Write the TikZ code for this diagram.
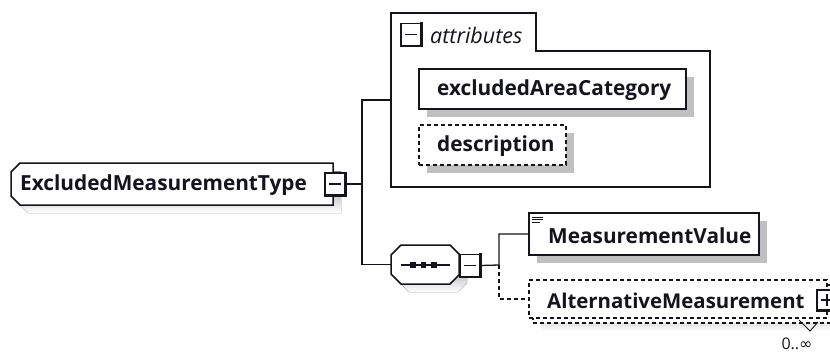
\documentclass[tikz,border=0pt]{standalone}
\usepackage{fontspec}
\setmainfont{Open Sans}
\newfontfamily\symfont{DejaVu Sans}
\usetikzlibrary{shadows,calc}

\definecolor{shade}{RGB}{192,192,192}
\definecolor{ink}{RGB}{20,20,30}

\tikzset{
  elemtext/.style={anchor=west, inner sep=0pt, text=ink,
    font=\bfseries\fontsize{20.8}{24}\selectfont},
  boxline/.style={draw=ink, line width=1.5pt, fill=white},
  optline/.style={dash pattern=on 4pt off 3pt},
  conn/.style={draw=ink, line width=1.3pt},
  shadowed/.style={drop shadow={shadow xshift=8pt, shadow yshift=-8pt,
    fill=shade, opacity=1}},
  elembox/.style={boxline, shadowed, rectangle, inner sep=0pt},
  frame/.style={rectangle, inner sep=0pt},
  pmbox/.style={draw=ink, fill=white, line width=1.2pt, rectangle,
    inner sep=0pt, minimum width=20pt, minimum height=22pt},
  pmedge/.style={draw=ink, line width=2.4pt},
  pmsign/.style={draw=ink, line width=1.3pt},
}

\begin{document}
\begin{tikzpicture}[x=1pt,y=-1pt]
\useasboundingbox (0,0) rectangle (830,353);

% ---- root element: ExcludedMeasurementType ----
\fill[shade] (28,171) -- (341,171) -- (341,213) -- (28,213) -- (19,204) -- (19,180) -- cycle;
\node[frame, minimum width=322pt, minimum height=42pt] (root) at (172,184) {};
\draw[boxline] (20,163) -- (333,163) -- (333,205) -- (20,205) -- (11,196) -- (11,172) -- cycle;
\node[elemtext] (roottext) at (20,185) {ExcludedMeasurementType};
\node[pmbox] (rootpm) at (335,184) {};
\draw[pmedge] ([yshift=0.6pt]rootpm.north east) -- (rootpm.south east) -- ([xshift=-0.6pt]rootpm.south west);
\draw[pmsign] ([xshift=-6pt]rootpm.center) -- ([xshift=6pt]rootpm.center);

% ---- attributes group ----
\coordinate (grpNW) at (391,13);
\draw[draw=ink, line width=1.4pt]
  (391,187) -- (grpNW) -- (536,13) -- (536,51) -- (710,51) -- (710,187) -- cycle;
\coordinate (grpW) at (391,100);
\node[pmbox] (attrpm) at (411,34.5) {};
\draw[pmedge] ([yshift=0.6pt]attrpm.north east) -- (attrpm.south east) -- ([xshift=-0.6pt]attrpm.south west);
\draw[pmsign] ([xshift=-6pt]attrpm.center) -- ([xshift=6pt]attrpm.center);
\node[anchor=west, inner sep=0pt, text=ink, font=\itshape\fontsize{21.5}{24}\selectfont]
  (attrlabel) at (430,35) {attributes};

\node[elembox, minimum width=267pt, minimum height=40pt] (area) at (552.5,89) {};
\node[elemtext] (areatext) at (437,90) {excludedAreaCategory};
\node[elembox, optline, minimum width=147pt, minimum height=40pt] (desc) at (492.5,145) {};
\node[elemtext] (desctext) at (437,146) {description};

% ---- sequence compositor ----
\fill[shade] (409,253) -- (458,253) -- (467,262) -- (467,283) -- (458,292) -- (409,292) -- (399,282) -- (399,263) -- cycle;
\node[frame, minimum width=68pt, minimum height=39pt] (seq) at (425,264.5) {};
\draw[boxline] (401,245) -- (450,245) -- (459,254) -- (459,275) -- (450,284) -- (401,284) -- (391,274) -- (391,255) -- cycle;
\draw[conn, line width=1.2pt] (401,265) -- (450,265);
\foreach \sx in {413,423.5,434}
  \fill[ink] (\sx-2.6,262.4) rectangle (\sx+2.6,267.6);
\node[pmbox] (seqpm) at (470,265.5) {};
\draw[pmedge] ([yshift=0.6pt]seqpm.north east) -- (seqpm.south east) -- ([xshift=-0.6pt]seqpm.south west);
\draw[pmsign] ([xshift=-6pt]seqpm.center) -- ([xshift=6pt]seqpm.center);

% ---- MeasurementValue ----
\node[elembox, minimum width=230pt, minimum height=42pt] (mval) at (644,234) {};
\node[elemtext] (mvaltext) at (548,236) {MeasurementValue};
\draw[draw=ink, line width=1pt]
  (532,217) -- (543,217)
  (532,219.8) -- (543,219.8)
  (532,222.6) -- (540,222.6);

% ---- AlternativeMeasurement (optional, repeating) ----
\fill[shade] (541,293) rectangle (839,331);
\node[boxline, optline, rectangle, inner sep=0pt,
      minimum width=298pt, minimum height=38pt] (altback) at (682,304) {};
\node[boxline, optline, rectangle, inner sep=0pt,
      minimum width=298pt, minimum height=38pt] (alt) at (678,299) {};
\draw[draw=ink, line width=0.9pt] (799,320) -- (810,331) -- (818,322);
\node[elemtext, font=\bfseries\fontsize{20.4}{24}\selectfont] (alttext) at (547,301) {AlternativeMeasurement};
\node[pmbox, minimum height=20pt] (altpm) at (827,300) {};
\draw[pmedge] ([yshift=0.6pt]altpm.north east) -- (altpm.south east) -- ([xshift=-0.6pt]altpm.south west);
\draw[pmsign] ([xshift=-6pt]altpm.center) -- ([xshift=6pt]altpm.center)
              ([yshift=-6pt]altpm.center) -- ([yshift=6pt]altpm.center);
\node[inner sep=0pt, text=ink, font=\fontsize{16}{18}\selectfont]
  (occurs) at (797,343.5) {0..{\symfont ∞}};

% ---- connectors ----
\coordinate (rootjoin) at (362,184);
\coordinate (seqjoin) at (499,265);
\draw[conn] (rootpm.east) -- (rootjoin);
\draw[conn] (grpW) -| (rootjoin) |- (seq.west);
\draw[conn] (seqpm.east) -- (seqjoin) |- (mval.west);
\draw[conn, optline] (seqjoin) |- (alt.west);
\end{tikzpicture}
\end{document}
